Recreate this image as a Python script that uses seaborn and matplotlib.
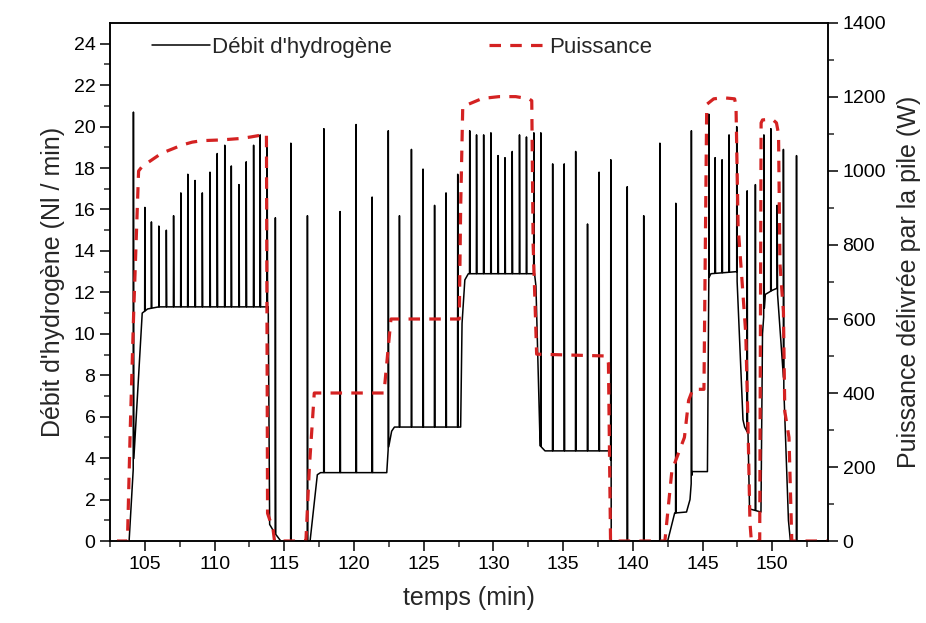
import numpy as np
import pandas as pd
import matplotlib
matplotlib.use("Agg")
import matplotlib.pyplot as plt
import seaborn as sns

# Hydrogen flow: baseline breakpoints (min, Nl/min)
base_t = [103.0, 103.87, 104.81, 105.2, 106.0, 113.85, 113.95, 114.3, 114.75,
          116.85, 117.37, 117.6, 122.35, 122.45, 122.7, 122.9, 127.65, 127.75,
          127.95, 128.2, 132.95, 133.05, 133.35, 133.7, 138.4, 138.45, 142.5,
          143.0, 143.85, 144.1, 144.25, 145.35, 145.45, 145.6, 147.45, 147.9,
          148.02, 148.26, 148.37, 149.19, 149.3, 149.5, 150.0, 150.35, 150.8,
          151.16, 151.3, 154.0]
base_v = [0, 0, 11.0, 11.2, 11.3, 11.3, 0.8, 0.4, 0,
          0, 3.2, 3.3, 3.3, 4.4, 5.3, 5.5, 5.5, 10.5,
          12.6, 12.9, 12.9, 12.3, 4.6, 4.35, 4.35, 0, 0,
          1.35, 1.4, 2.0, 3.35, 3.35, 12.7, 12.9, 13.0, 5.85,
          5.5, 5.2, 1.55, 1.4, 10.0, 11.9, 12.1, 12.2, 7.9,
          1.0, 0, 0]

# Purge peaks (min, Nl/min)
spike_t = [104.18, 105.0, 105.47, 106.0, 106.54, 107.06, 107.58, 108.08, 108.6,
           109.12, 109.67, 110.19, 110.73, 111.2, 111.75, 112.27, 112.8, 113.27,
           113.77,
           114.36, 115.47, 116.66,
           117.84, 119.0, 120.15, 121.3, 122.46,
           123.26, 124.12, 124.95, 125.78, 126.6, 127.44,
           128.3, 128.79, 129.3, 129.82, 130.33, 130.83, 131.35, 131.87, 132.37,
           132.9,
           133.4, 134.25, 135.08, 135.9, 136.75, 137.58, 138.42,
           139.6, 140.78, 141.94,
           143.08, 144.2,
           145.45, 145.9, 146.4, 146.9, 147.45,
           148.2, 148.79,
           149.4, 149.9, 150.35, 150.8, 151.74]
spike_v = [20.7, 16.1, 15.4, 15.2, 15.0, 15.7, 16.8, 17.7, 17.4,
           16.8, 17.8, 18.7, 19.1, 18.1, 17.2, 18.3, 19.1, 19.6,
           19.3,
           15.6, 19.2, 15.7,
           19.9, 15.9, 20.1, 16.6, 19.8,
           15.7, 18.9, 17.95, 16.2, 16.8, 17.7,
           19.8, 19.6, 19.6, 19.7, 18.6, 18.5, 18.8, 19.6, 19.5,
           19.7,
           19.7, 18.2, 18.2, 18.8, 15.3, 17.8, 18.4,
           17.1, 15.7, 19.2,
           16.3, 19.8,
           20.6, 18.5, 18.4, 19.6, 20.0,
           16.9, 17.2,
           19.6, 19.9, 16.2, 18.9, 18.6]

# Stack power (min, W)
power_t = [103.0, 103.75, 103.95, 104.2, 104.55, 104.8, 105.5, 106.2, 107.0,
           107.65, 108.4, 109.1, 110.5, 111.9, 112.6, 113.35, 113.72, 113.8,
           114.2, 114.3, 116.55, 116.8, 117.15, 122.15, 122.4, 122.65, 127.55,
           127.65, 127.8, 128.5, 129.2, 130.4, 131.6, 132.55, 132.75, 132.85,
           133.1, 138.1, 138.25, 138.4, 142.3, 142.8, 143.3, 143.7, 144.0,
           144.3, 145.1, 145.2, 145.3, 145.8, 146.5, 147.3, 147.4, 147.55,
           147.8, 148.1, 148.25, 148.4, 148.5, 149.1, 149.2, 149.3, 150.0,
           150.3, 150.45, 150.55, 150.8, 150.9, 151.2, 151.4, 154.0]
power_v = [0, 0, 300, 620, 1000, 1012, 1030, 1048, 1060,
           1070, 1078, 1082, 1084, 1088, 1092, 1097, 1100, 75,
           30, 0, 0, 200, 400, 400, 500, 600, 600,
           900, 1174, 1185, 1196, 1201, 1201, 1195, 1190, 800,
           505, 500, 480, 0, 0, 190, 240, 280, 380,
           410, 410, 800, 1180, 1195, 1198, 1195, 1175, 850,
           720, 560, 330, 50, 0, 0, 1130, 1138, 1140,
           1130, 1100, 750, 620, 350, 280, 0, 0]

x_ticks = [105, 110, 115, 120, 125, 130, 135, 140, 145, 150]

# Assemble the flow trace: each purge is a narrow peak on top of the baseline
t_pts = list(base_t)
v_pts = list(base_v)
for ts, vs in zip(spike_t, spike_v):
    for dt, peak in ((-0.015, False), (0.0, True), (0.03, False)):
        tt = ts + dt
        t_pts.append(tt)
        v_pts.append(vs if peak else float(np.interp(tt, base_t, base_v)))
order = np.argsort(t_pts, kind="stable")
flow = pd.DataFrame({"t": np.array(t_pts)[order], "v": np.array(v_pts)[order]})
power = pd.DataFrame({"t": power_t, "p": power_v})

sns.set_style("ticks")
plt.rcParams["font.family"] = ["Liberation Sans", "DejaVu Sans"]

fig = plt.figure(figsize=(9.26, 6.23), dpi=100)
ax = fig.add_axes([0.1188, 0.1316, 0.7754, 0.8315])
ax2 = ax.twinx()

red = "#d42222"
sns.lineplot(data=flow, x="t", y="v", ax=ax, color="black", lw=1.1,
             estimator=None, sort=False, legend=False)
sns.lineplot(data=power, x="t", y="p", ax=ax2, color=red, lw=2.3,
             estimator=None, sort=False, legend=False)
ax2.lines[0].set_linestyle((0, (3.6, 2.9)))

ax.set_xlim(102.9, 154.0)
ax.set_ylim(0, 25)
ax2.set_ylim(0, 1400)

ax.set_xticks(x_ticks)
ax.set_xticks(np.arange(102.5, 154, 2.5), minor=True)
ax.set_yticks(np.arange(0, 25, 2))
ax.set_yticks(np.arange(1, 25, 2), minor=True)
ax2.set_yticks(np.arange(0, 1401, 200))
ax2.set_yticks(np.arange(100, 1400, 200), minor=True)

for a in (ax, ax2):
    a.tick_params(which="major", direction="out", length=7, width=1.1,
                  labelsize=14, colors="black")
    a.tick_params(which="minor", direction="out", length=4, width=1.1)
    for s in a.spines.values():
        s.set_visible(True)
        s.set_linewidth(1.1)
        s.set_color("black")

ax.set_xlabel("temps (min)", fontsize=18, labelpad=10)
ax.set_ylabel("Débit d'hydrogène (Nl / min)", fontsize=18, labelpad=6)
ax2.set_ylabel("Puissance délivrée par la pile (W)", fontsize=18, labelpad=8)

h1 = ax.lines[0]
h2 = ax2.lines[0]
ax.legend([h1, h2], ["Débit d'hydrogène", "Puissance"], ncol=2,
          loc="upper left", bbox_to_anchor=(0.052, 0.981), frameon=False,
          fontsize=16, handlelength=2.6, handletextpad=0.1, columnspacing=4.4,
          borderaxespad=0, borderpad=0.2)

fig.savefig("out.png", dpi=100)
